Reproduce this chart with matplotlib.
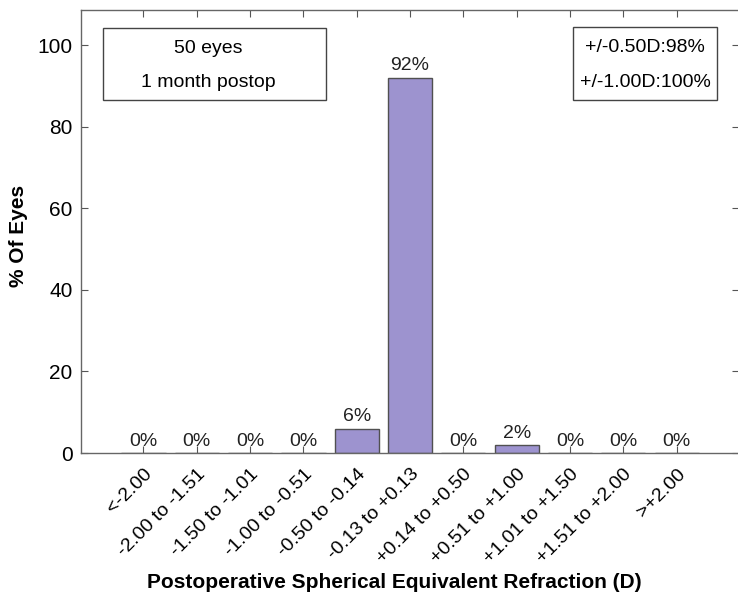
import matplotlib
matplotlib.use("Agg")
import matplotlib.pyplot as plt
import matplotlib.transforms as mtransforms
from matplotlib.patches import Rectangle
import numpy as np

plt.rcParams['font.family'] = ['Liberation Sans', 'DejaVu Sans']

categories = ["<-2.00", "-2.00 to -1.51", "-1.50 to -1.01", "-1.00 to -0.51",
              "-0.50 to -0.14", "-0.13 to +0.13", "+0.14 to +0.50", "+0.51 to +1.00",
              "+1.01 to +1.50", "+1.51 to +2.00", ">+2.00"]
percent = [0, 0, 0, 0, 6, 92, 0, 2, 0, 0, 0]
yticks = [0, 20, 40, 60, 80, 100]
box_left = ["50 eyes", "1 month postop"]
box_right = ["+/-0.50D:98%", "+/-1.00D:100%"]

fig = plt.figure(figsize=(7.38, 6.02), dpi=100)
ax = fig.add_axes([0.1098, 0.2475, 0.8916, 0.7359])

x = np.arange(len(categories))
ax.bar(x, percent, width=0.83, color='#9d93cf', edgecolor='#505050', linewidth=1.0, zorder=2)
for xi, v in zip(x, percent):
    ax.text(xi, v + 0.8, f"{v}%", ha='center', va='bottom', fontsize=14, color='#222222')

ax.set_xlim(-1.17, 11.17)
ax.set_ylim(0, 108.6)
ax.set_yticks(yticks)
ax.set_xticks(x)
ax.set_xticklabels(categories, rotation=45, ha='right', rotation_mode='anchor', fontsize=14)
offset = mtransforms.ScaledTranslation(9 / 100, 0, fig.dpi_scale_trans)
for lab in ax.get_xticklabels():
    lab.set_transform(lab.get_transform() + offset)
ax.tick_params(axis='y', labelsize=15, direction='in', length=5, right=True, color='#555555', pad=6)
ax.tick_params(axis='x', direction='in', length=5, top=True, color='#555555', pad=9)
for s in ax.spines.values():
    s.set_color('#666666')
    s.set_linewidth(1.0)

ax.set_ylabel("% Of Eyes", fontsize=15, fontweight='bold', va='center')
ax.yaxis.set_label_coords(-0.0956, 0.49)
ax.set_xlabel("Postoperative Spherical Equivalent Refraction (D)", fontsize=15, fontweight='bold', va='center')
ax.xaxis.set_label_coords(0.4765, -0.293)

# annotation boxes
rl = Rectangle((0.033, 0.797), 0.340, 0.162, transform=ax.transAxes, fill=False,
               edgecolor='#444444', linewidth=1.0)
ax.add_patch(rl)
ax.text(0.193, 0.912, box_left[0], transform=ax.transAxes, ha='center', va='center', fontsize=14)
ax.text(0.193, 0.837, box_left[1], transform=ax.transAxes, ha='center', va='center', fontsize=14)
rr = Rectangle((0.747, 0.797), 0.220, 0.164, transform=ax.transAxes, fill=False,
               edgecolor='#444444', linewidth=1.0)
ax.add_patch(rr)
ax.text(0.857, 0.916, box_right[0], transform=ax.transAxes, ha='center', va='center', fontsize=14)
ax.text(0.857, 0.837, box_right[1], transform=ax.transAxes, ha='center', va='center', fontsize=14)

fig.savefig("out.png", dpi=100)
